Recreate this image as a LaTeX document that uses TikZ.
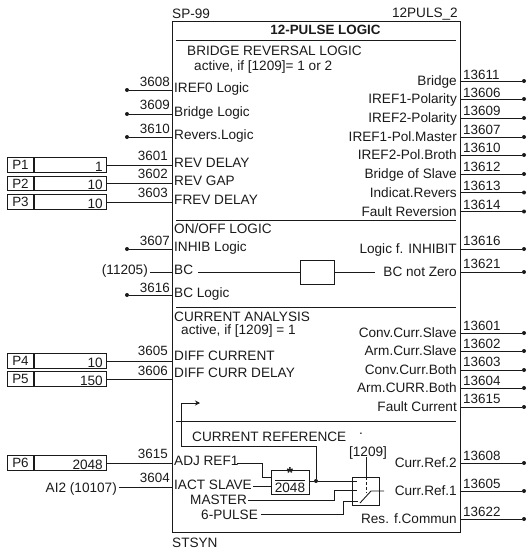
\documentclass[tikz,border=0pt]{standalone}
\usepackage{fontspec}
\setmainfont{Liberation Sans}
\usepackage{tikz}
\usetikzlibrary{arrows.meta,positioning}
\definecolor{ink}{HTML}{1A1A1A}
\tikzset{
  txt/.style={inner sep=0pt,text=ink,font=\fontsize{13.6}{14}\selectfont,text height=9.5pt,text depth=0pt},
  txtl/.style={txt,anchor=west},
  txtr/.style={txt,anchor=east},
  num/.style={txt,anchor=east,font=\fontsize{13.4}{14}\selectfont},
  numr/.style={txt,anchor=west,font=\fontsize{13.4}{14}\selectfont},
  wire/.style={draw=ink,line width=0.9pt},
  pin/.style={circle,fill=ink,minimum size=4pt,inner sep=0pt},
  blk/.style={rectangle,draw=ink,line width=1pt,inner sep=0pt},
  parbox/.style={blk,minimum width=26pt,minimum height=14.5pt,anchor=west,font=\fontsize{13.4}{14}\selectfont,text=ink},
  valbox/.style={blk,minimum width=72pt,minimum height=14.5pt,anchor=west},
  sep/.style={wire},
  refarr/.style={wire,-{Stealth[length=5pt,width=5pt]}},
}
\begin{document}
\begin{tikzpicture}[x=1pt,y=-1pt]
  \useasboundingbox (0,0) rectangle (529,551);
  \node[blk,minimum width=288pt,minimum height=511pt,anchor=north west] (main) at (172,21) {};
  % header
  \node[txtl] (sp) at (172,14) {SP-99};
  \node[txtr] (name) at (458,13) {12PULS\_2};
  \node[txt,font=\fontsize{13.4}{14}\selectfont\bfseries] (title) at (325.5,30) {12-PULSE LOGIC};
  \node[txtl] (stsyn) at (172,543) {STSYN};
  % separators
  \foreach \i/\y in {a/40,b/220,c/307,d/421} {
    \coordinate (s\i) at (176,\y);
    \coordinate (e\i) at (456,\y);
    \draw[sep] (s\i) -- (e\i);
  }
  \node[txtl] (hbridge) at (187,51) {BRIDGE REVERSAL LOGIC};
  \node[txtl] (abridge) at (194,66) {active, if [1209]= 1 or 2};
  \node[txtl] (honoff) at (174,229) {ON/OFF LOGIC};
  \node[txtl] (hcurr) at (174,317) {CURRENT ANALYSIS};
  \node[txtl] (acurr) at (181,330) {active, if [1209] = 1};
  \node[txtl] (hcref) at (192,437) {CURRENT REFERENCE};
  \node[txt] (tick) at (361,429.5) {.};
  % inputs with pin
  \foreach \n/\y/\ty/\ly/\t in {3608/90/88/82/IREF0 Logic,3609/114/112/105/Bridge Logic,3610/137/135/129/Revers.Logic,3607/249/247/241/INHIB Logic,3616/295/293/288/BC Logic} {
    \node[pin] (in\n) at (127,\y) {};
    \draw[wire] (in\n) -- (in\n -| main.west);
    \node[num] (ln\n) at (170,\ly) {\n};
    \node[txtl] (tx\n) at (174,\ty) {\t};
  }
  % parameters
  \foreach \p/\v/\n/\y/\ly/\ty/\t in {P1/1/3601/165/156/163/REV DELAY,P2/10/3602/183.5/174/181/REV GAP,P3/10/3603/202/193/200/FREV DELAY,P4/10/3605/361/351/356/DIFF CURRENT,P5/150/3606/379/371/373/DIFF CURR DELAY,P6/2048/3615/463/454/461/ADJ REF1} {
    \node[parbox] (\p) at (7,\y) {\p};
    \node[valbox,right=0pt of \p] (v\p) {};
    \node[txtr] (t\p) at (103,\y+1.5) {\v};
    \draw[wire] (v\p) -- (v\p -| main.west);
    \node[num] (ln\n) at (168,\ly) {\n};
    \node[txtl] (tx\n) at (174,\ty) {\t};
  }
  % outputs
  \foreach \n/\y/\ly/\t in {13611/81/75/Bridge,13606/99/93/IREF1-Polarity,13609/118/111/IREF2-Polarity,13607/137/130/IREF1-Pol.Master,13610/155/148/IREF2-Pol.Broth,13612/174/167/Bridge of Slave,13613/192.5/186/Indicat.Revers,13614/211.5/205/Fault Reversion,13616/249/241/Logic f. INHIBIT,13621/272/264/BC not Zero,13601/333/326/Conv.Curr.Slave,13602/351/344/Arm.Curr.Slave,13603/370/362/Conv.Curr.Both,13604/388/381/Arm.CURR.Both,13615/407/399/Fault Current,13608/463/456/Curr.Ref.2,13605/491/484/Curr.Ref.1,13622/519/512/Res. f.Commun} {
    \node[pin] (out\n) at (524,\y) {};
    \draw[wire] (out\n) -- (out\n -| main.east);
    \node[numr] (ln\n) at (463,\ly) {\n};
    \node[txtr] (tx\n) at (457,\y) {\t};
  }
  % BC path
  \node[txtl] (txbc) at (174,270) {BC};
  \node[txtr] (src) at (148,270) {(11205)};
  \coordinate (bcin) at (150,272);
  \draw[wire] (bcin) -- (bcin -| main.west);
  \node[blk,minimum width=34pt,minimum height=24pt] (delay) at (317,272) {};
  \coordinate (bca) at (198,272);
  \coordinate (bcb) at (375,272);
  \draw[wire] (bca) -- (delay);
  \draw[wire] (delay) -- (bcb);
  % AI2 input
  \node[num] (ln3604) at (170,478) {3604};
  \node[txtl] (txiact) at (174,485) {IACT SLAVE};
  \node[txtr] (ai) at (117,488) {AI2 (10107)};
  \coordinate (aiin) at (119,487);
  \draw[wire] (aiin) -- (aiin -| main.west);
  % current reference logic
  \node[txtl] (txmaster) at (190,500) {MASTER};
  \node[txtl] (txpulse) at (201,515) {6-PULSE};
  \node[blk,minimum width=38pt,minimum height=24pt,anchor=north west] (mul) at (271,470) {};
  \node[txt,text height=6.5pt,font=\fontsize{16}{16}\selectfont\bfseries] (star) at (290,475.5) {*};
  \node[txt,text height=9pt] (den) at (290,487.5) {2048};
  \coordinate (fa) at (275,480);
  \coordinate (fb) at (305,480);
  \draw[wire] (fa) -- (fb);
  \node[blk,minimum width=27pt,minimum height=28pt,anchor=north west] (sw) at (352,477) {};
  \node[txt] (sel) at (368,452) {[1209]};
  \coordinate (adj) at (237,463);
  \draw[wire] (adj) -| (262,477) -- (262,477 -| mul.west);
  \coordinate (iact) at (253,486);
  \draw[wire] (iact) -- (iact -| mul.west);
  \node[pin] (fork) at (316,481) {};
  \coordinate (forke) at (357,481);
  \draw[wire] (mul.east |- fork) -- (fork) -- (forke);
  \coordinate (fbk) at (181,446);
  \coordinate (fbt) at (200,403);
  \draw[wire] (fork) |- (fbk);
  \draw[refarr] (fbk) |- (fbt);
  \coordinate (mst) at (248,500);
  \coordinate (mse) at (357,490.5);
  \draw[wire] (mst) -| (334,490.5) -- (mse);
  \coordinate (pul) at (261,514);
  \coordinate (pue) at (358,501);
  \draw[wire] (pul) -| (343,501) -- (pue);
  \coordinate (swa) at (360,503);
  \coordinate (swb) at (371,491);
  \coordinate (swc) at (384,491);
  \draw[wire] (swa) -- (swb) -- (swc);
  \coordinate (selb) at (366,457);
  \coordinate (selc) at (366,493);
  \draw[wire] (selb) -- (selb |- sw.north);
  \draw[wire,densely dashed] (selb |- sw.north) -- (selc);
\end{tikzpicture}
\end{document}
